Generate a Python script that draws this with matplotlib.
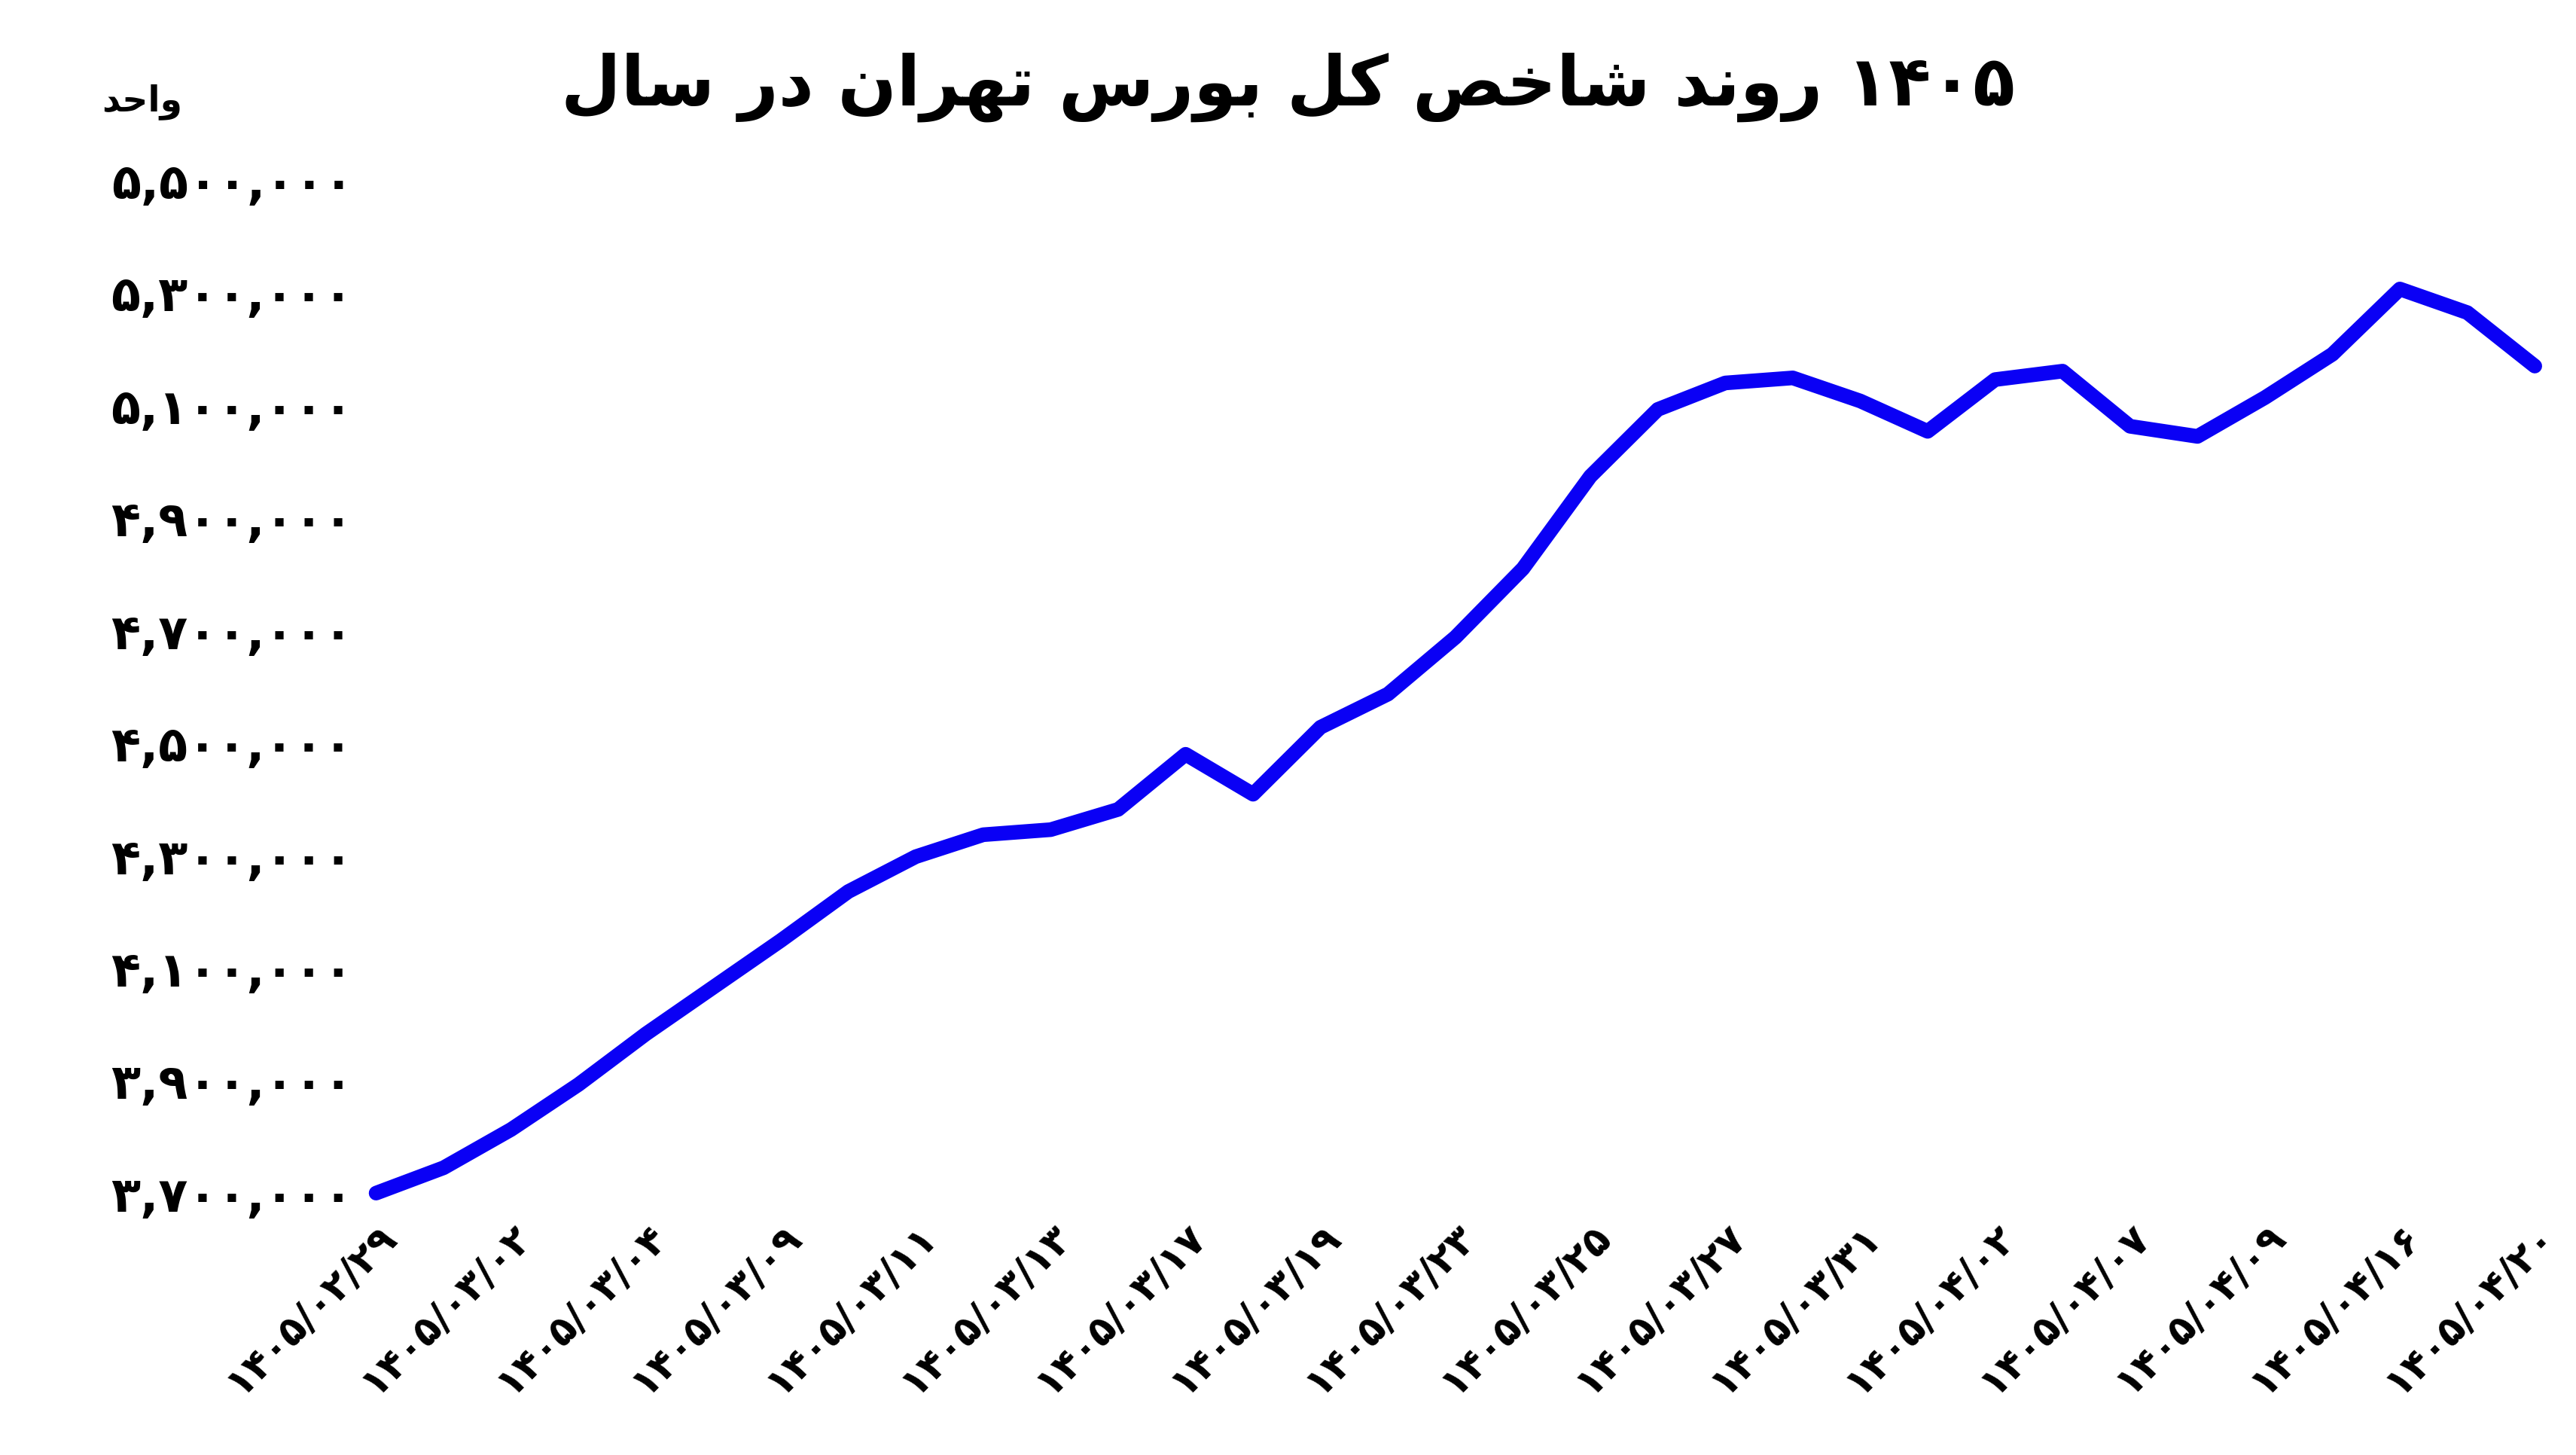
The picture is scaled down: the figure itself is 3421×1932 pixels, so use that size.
import matplotlib
matplotlib.use("Agg")
import matplotlib.pyplot as plt

# Persian shaping by hand (matplotlib has no RTL shaping)
FORMS = {
    'ا': ('\uFE8D', '\uFE8E', None, None),
    'ب': ('\uFE8F', '\uFE90', '\uFE91', '\uFE92'),
    'ت': ('\uFE95', '\uFE96', '\uFE97', '\uFE98'),
    'ح': ('\uFEA1', '\uFEA2', '\uFEA3', '\uFEA4'),
    'خ': ('\uFEA5', '\uFEA6', '\uFEA7', '\uFEA8'),
    'د': ('\uFEA9', '\uFEAA', None, None),
    'ر': ('\uFEAD', '\uFEAE', None, None),
    'س': ('\uFEB1', '\uFEB2', '\uFEB3', '\uFEB4'),
    'ش': ('\uFEB5', '\uFEB6', '\uFEB7', '\uFEB8'),
    'ص': ('\uFEB9', '\uFEBA', '\uFEBB', '\uFEBC'),
    'ک': ('\uFB8E', '\uFB8F', '\uFB90', '\uFB91'),
    'ل': ('\uFEDD', '\uFEDE', '\uFEDF', '\uFEE0'),
    'ن': ('\uFEE5', '\uFEE6', '\uFEE7', '\uFEE8'),
    'ه': ('\uFEE9', '\uFEEA', '\uFEEB', '\uFEEC'),
    'و': ('\uFEED', '\uFEEE', None, None),
}


def shape_word(w):
    out = []
    for i, c in enumerate(w):
        if c not in FORMS:
            out.append(c)
            continue
        prev = w[i - 1] if i > 0 else None
        nxt = w[i + 1] if i + 1 < len(w) else None
        join_prev = prev in FORMS and FORMS[prev][2] is not None
        join_next = nxt in FORMS and FORMS[c][2] is not None
        iso, fin, ini, med = FORMS[c]
        if join_prev and join_next:
            out.append(med)
        elif join_prev:
            out.append(fin)
        elif join_next:
            out.append(ini)
        else:
            out.append(iso)
    s = ''.join(out)
    if any(ch in FORMS for ch in w):
        s = s[::-1]
    return s


def fa(text):
    return ' '.join(shape_word(w) for w in text.split(' ')[::-1])


def fa_digits(s):
    return s.translate(str.maketrans('0123456789', '۰۱۲۳۴۵۶۷۸۹'))


dates = ["1405/02/29", "", "1405/03/02", "", "1405/03/04", "", "1405/03/09", "",
         "1405/03/11", "", "1405/03/13", "", "1405/03/17", "", "1405/03/19", "",
         "1405/03/23", "", "1405/03/25", "", "1405/03/27", "", "1405/03/31", "",
         "1405/04/02", "", "1405/04/07", "", "1405/04/09", "", "1405/04/16", "",
         "1405/04/20"]
index_values = [3700000, 3745000, 3813000, 3893000, 3983000, 4066000, 4149000, 4236000,
                4298000, 4337000, 4346000, 4382000, 4480000, 4409000, 4528000, 4587000,
                4688000, 4810000, 4974000, 5093000, 5140000, 5149000, 5108000, 5054000,
                5146000, 5161000, 5063000, 5045000, 5114000, 5191000, 5307000, 5265000,
                5170000]
yticks = list(range(3700000, 5500001, 200000))

plt.rcParams['font.family'] = ['DejaVu Sans']
plt.rcParams['font.weight'] = 'bold'

fig = plt.figure(figsize=(34.21, 19.32), dpi=100)
ax = fig.add_axes([0.146, 0.180, 0.838, 0.696])
x = list(range(len(index_values)))
ax.plot(x, index_values, color='#0a00f5', linewidth=14, solid_joinstyle='round',
        solid_capstyle='round', clip_on=False)
ax.set_xlim(0, len(x) - 1)
ax.set_ylim(3700000, 5500000)
for s in ax.spines.values():
    s.set_visible(False)
ax.tick_params(length=0, pad=22)
ax.set_yticks(yticks)
ax.set_yticklabels([fa_digits(f"{v:,}") for v in yticks], fontsize=46, fontweight='bold')
tick_pos = [i for i, d in enumerate(dates) if d]
ax.set_xticks(tick_pos)
ax.set_xticklabels([fa_digits(dates[i]) for i in tick_pos], rotation=45, ha='right',
                   rotation_mode='anchor', fontsize=38, fontweight='bold')

fig.text(0.5, 0.94, fa("روند شاخص کل بورس تهران در سال") + " " + fa_digits("1405"),
         ha='center', va='center', fontsize=66, fontweight='bold')
fig.text(0.055, 0.93, fa("واحد"), ha='center', va='center', fontsize=34, fontweight='bold')

fig.savefig("out.png", dpi=100)
